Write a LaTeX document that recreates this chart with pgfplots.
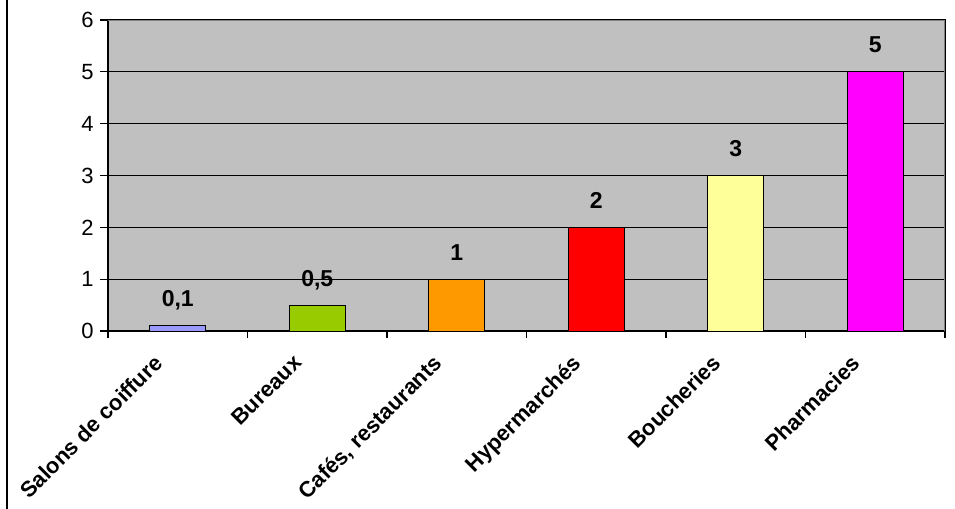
\documentclass[border=0pt]{standalone}
\usepackage{fontspec}
\setmainfont{Liberation Sans}
\usepackage{pgfplots}
\pgfplotsset{compat=1.18}

\definecolor{plotbg}{HTML}{C0C0C0}
\definecolor{cA}{HTML}{9999FF}
\definecolor{cB}{HTML}{99CC00}
\definecolor{cC}{HTML}{FF9900}
\definecolor{cD}{HTML}{FF0000}
\definecolor{cE}{HTML}{FFFF99}
\definecolor{cF}{HTML}{FF00FF}
\definecolor{frame}{HTML}{808080}

\begin{document}
\begin{tikzpicture}
\useasboundingbox (-54pt,-89pt) rectangle (423.5pt,165.5pt);
\draw[line width=1pt] (-50.5pt,-89pt) -- (-50.5pt,165.5pt);
\begin{axis}[
    at={(0,0)}, anchor=south west,
    width=418.5pt, height=155.5pt, scale only axis,
    xmin=-0.5, xmax=5.5, ymin=0, ymax=6,
    xtick={0,...,5},
    xticklabels={Salons de coiffure, Bureaux, {Cafés, restaurants}, Hypermarchés, Boucheries, Pharmacies},
    minor xtick={-0.5,0.5,...,5.5},
    ytick={0,...,6},
    xtick pos=left, ytick pos=left,
    tick align=outside,
    major x tick style={draw=none},
    minor tick length=3.5pt,
    major tick length=4pt,
    tick style={black, line width=0.6pt},
    axis line style={black, line width=0.6pt},
    axis background/.style={fill=plotbg},
    ymajorgrids,
    grid style={black, line width=0.5pt},
    /pgf/number format/assume math mode=true,
    /pgf/number format/use comma,
    yticklabel style={font=\fontsize{11}{13}\selectfont, inner sep=0pt, anchor=east, xshift=-3pt},
    xticklabel style={font=\bfseries\fontsize{11}{13}\selectfont, inner sep=0pt, xshift=-12.5pt, yshift=-7pt, rotate=45, anchor=north east},
    nodes near coords,
    every node near coord/.append style={font=\bfseries\fontsize{11.5}{13}\selectfont, inner sep=0pt, anchor=base, yshift=9.5pt},
]
\addplot[ybar, bar width=0.4, bar shift=0, fill=cA, draw=black, line width=0.5pt] coordinates {(0,0.1)};
\addplot[ybar, bar width=0.4, bar shift=0, fill=cB, draw=black, line width=0.5pt] coordinates {(1,0.5)};
\addplot[ybar, bar width=0.4, bar shift=0, fill=cC, draw=black, line width=0.5pt] coordinates {(2,1)};
\addplot[ybar, bar width=0.4, bar shift=0, fill=cD, draw=black, line width=0.5pt] coordinates {(3,2)};
\addplot[ybar, bar width=0.4, bar shift=0, fill=cE, draw=black, line width=0.5pt] coordinates {(4,3)};
\addplot[ybar, bar width=0.4, bar shift=0, fill=cF, draw=black, line width=0.5pt] coordinates {(5,5)};
\draw[frame, line width=1pt] (rel axis cs:0,1) -- (rel axis cs:1,1) -- (rel axis cs:1,0);
\end{axis}
\end{tikzpicture}
\end{document}
